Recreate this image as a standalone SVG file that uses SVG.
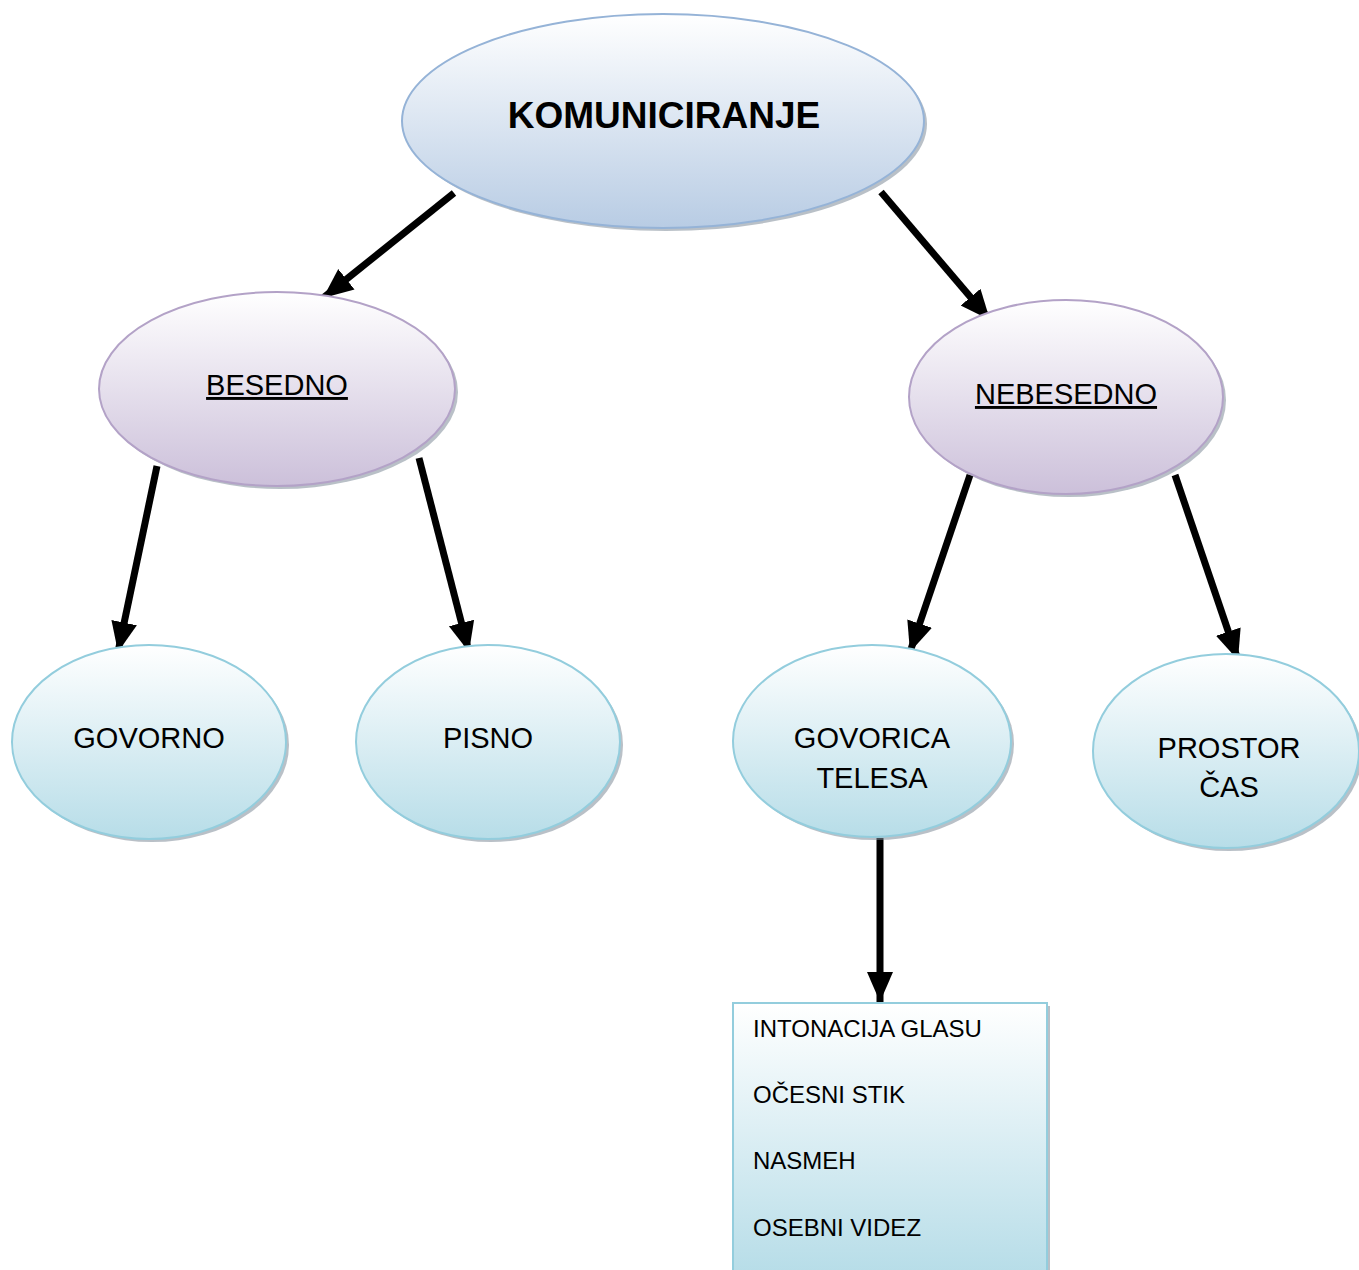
<svg xmlns="http://www.w3.org/2000/svg" width="1359" height="1270" viewBox="0 0 1359 1270">
<style>
text{font-family:"Liberation Sans",Arial,sans-serif;fill:#000}
.t{font-size:29px;text-anchor:middle}
.u{text-decoration:underline}
.b{font-size:24px}
.sh{fill:#7f8c99;opacity:.55}
.con{stroke:#000;stroke-width:7;fill:none;marker-end:url(#ah)}
</style>
<defs>
<linearGradient id="gBlue" x1="0" y1="0" x2="0" y2="1"><stop offset="0" stop-color="#ffffff"/><stop offset="1" stop-color="#b8cce4"/></linearGradient>
<linearGradient id="gPurple" x1="0" y1="0" x2="0" y2="1"><stop offset="0" stop-color="#ffffff"/><stop offset="1" stop-color="#ccc0da"/></linearGradient>
<linearGradient id="gAqua" x1="0" y1="0" x2="0" y2="1"><stop offset="0" stop-color="#ffffff"/><stop offset="1" stop-color="#b7dde8"/></linearGradient>
<marker id="ah" markerUnits="userSpaceOnUse" markerWidth="34" markerHeight="34" viewBox="0 0 34 34" refX="30" refY="17" orient="auto"><path d="M0,4 L30,17 L0,30 Z" fill="#000"/></marker>
</defs>
<g id="connectors">
<line class="con" x1="454" y1="193" x2="323" y2="298"/>
<line class="con" x1="881" y1="192" x2="990" y2="320"/>
<line class="con" x1="157" y1="466" x2="118" y2="652"/>
<line class="con" x1="419" y1="458" x2="469" y2="652"/>
<line class="con" x1="970" y1="475" x2="910" y2="652"/>
<line class="con" x1="1175" y1="475" x2="1238" y2="660"/>
<line class="con" x1="880" y1="838" x2="880" y2="1002"/>
</g>
<g id="komuniciranje">
<ellipse class="sh" cx="666" cy="124" rx="261" ry="107"/>
<ellipse cx="663" cy="121" rx="261" ry="107" fill="url(#gBlue)" stroke="#95b3d7" stroke-width="2"/>
<text x="664" y="128" font-size="37" font-weight="bold" text-anchor="middle">KOMUNICIRANJE</text>
</g>
<g id="besedno">
<ellipse class="sh" cx="280" cy="392" rx="178" ry="97"/>
<ellipse cx="277" cy="389" rx="178" ry="97" fill="url(#gPurple)" stroke="#b3a2c7" stroke-width="2"/>
<text class="t u" x="277" y="395">BESEDNO</text>
</g>
<g id="nebesedno">
<ellipse class="sh" cx="1069" cy="400" rx="157" ry="97"/>
<ellipse cx="1066" cy="397" rx="157" ry="97" fill="url(#gPurple)" stroke="#b3a2c7" stroke-width="2"/>
<text class="t u" x="1066" y="404">NEBESEDNO</text>
</g>
<g id="govorno">
<ellipse class="sh" cx="152" cy="745" rx="137" ry="97"/>
<ellipse cx="149" cy="742" rx="137" ry="97" fill="url(#gAqua)" stroke="#93cddd" stroke-width="2"/>
<text class="t" x="149" y="748">GOVORNO</text>
</g>
<g id="pisno">
<ellipse class="sh" cx="491" cy="745" rx="132" ry="97"/>
<ellipse cx="488" cy="742" rx="132" ry="97" fill="url(#gAqua)" stroke="#93cddd" stroke-width="2"/>
<text class="t" x="488" y="748">PISNO</text>
</g>
<g id="govorica-telesa">
<ellipse class="sh" cx="875" cy="744" rx="139" ry="96"/>
<ellipse cx="872" cy="741" rx="139" ry="96" fill="url(#gAqua)" stroke="#93cddd" stroke-width="2"/>
<text class="t" x="872" y="748">GOVORICA</text>
<text class="t" x="872" y="788">TELESA</text>
</g>
<g id="prostor-cas">
<ellipse class="sh" cx="1229" cy="754" rx="133" ry="97"/>
<ellipse cx="1226" cy="751" rx="133" ry="97" fill="url(#gAqua)" stroke="#93cddd" stroke-width="2"/>
<text class="t" x="1229" y="758">PROSTOR</text>
<text class="t" x="1229" y="797">ČAS</text>
</g>
<g id="list-box">
<rect class="sh" x="736" y="1006" width="314" height="270"/>
<rect x="733" y="1003" width="314" height="270" fill="url(#gAqua)" stroke="#93cddd" stroke-width="2"/>
<text class="b" x="753" y="1037">INTONACIJA GLASU</text>
<text class="b" x="753" y="1103">OČESNI STIK</text>
<text class="b" x="753" y="1169">NASMEH</text>
<text class="b" x="753" y="1236">OSEBNI VIDEZ</text>
</g>
</svg>
